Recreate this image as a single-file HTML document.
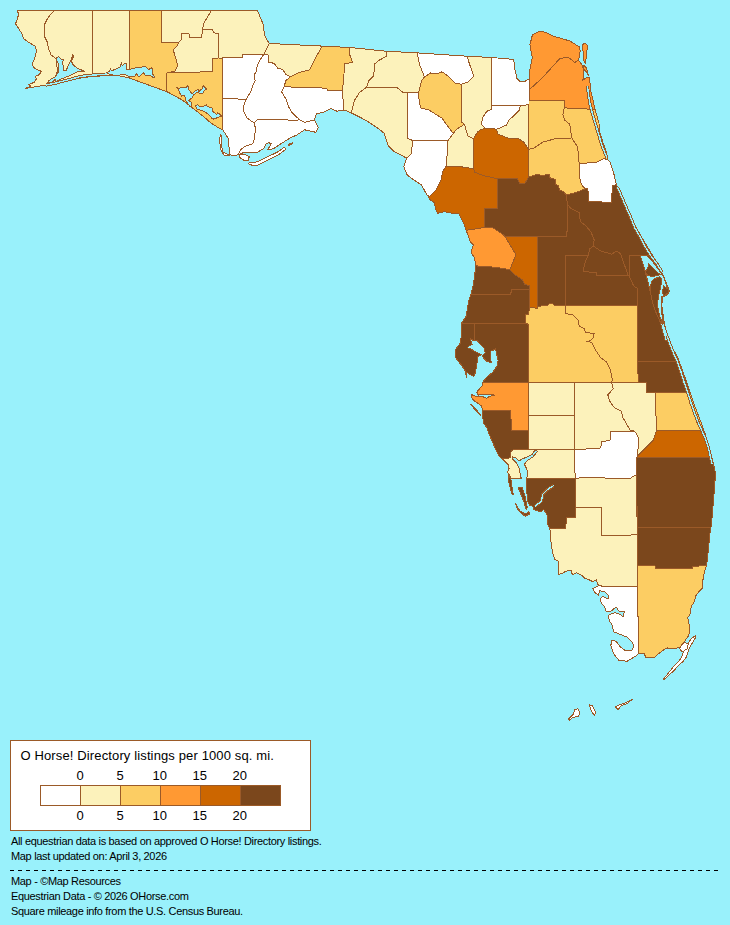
<!DOCTYPE html>
<html><head><meta charset="utf-8">
<style>
html,body{margin:0;padding:0;}
body{width:730px;height:925px;background:#99F1FB;position:relative;overflow:hidden;font-family:"Liberation Sans",sans-serif;color:#000;}
svg.map{position:absolute;left:0;top:0;}
.lg{position:absolute;left:10px;top:740px;width:299px;height:89px;border:1px solid #9B5A28;background:#fff;}
.t{position:absolute;white-space:nowrap;line-height:1;}
.bar{position:absolute;top:785px;height:19px;width:39px;border:1px solid #9B5A28;}
.dash{position:absolute;left:10px;top:870px;width:708px;height:1px;background:repeating-linear-gradient(to right,#000 0 4px,transparent 4px 8px);}
</style></head><body>
<svg class="map" width="730" height="925" viewBox="0 0 730 925">
<g stroke="#9B5A28" stroke-width="1" stroke-linejoin="round" shape-rendering="crispEdges">
<polygon points="54.9,10.5 17.0,10.5 18.7,13.7 17.5,18.7 15.5,23.7 18.7,28.7 22.0,33.7 23.7,38.7 28.7,42.4 35.0,46.1 36.4,50.0 35.9,54.4 34.2,59.9 32.1,64.2 33.7,67.5 37.5,69.7 41.4,71.4 39.2,74.7 35.3,76.3 36.4,79.0 34.2,82.3 28.8,84.5 31.0,86.2 25.5,88.4 39.9,86.0 55.0,83.5 57.4,70.0 56.1,58.6 51.1,54.9 48.6,48.6 47.4,42.4 44.9,37.4 44.9,23.7 47.4,18.7 51.1,13.7 54.9,10.5" fill="#FCF2BB"/>
<polygon points="54.9,10.5 92.5,10.5 92.5,76.6 84.8,77.3 69.8,79.8 55.0,83.5 57.4,70.0 56.1,58.6 51.1,54.9 48.6,48.6 47.4,42.4 44.9,37.4 44.9,23.7 47.4,18.7 51.1,13.7 54.9,10.5" fill="#FCF2BB"/>
<polygon points="92.5,10.5 129.5,10.5 129.5,78.0 117.2,75.3 99.8,76.0 92.5,76.6" fill="#FCF2BB"/>
<polygon points="129.5,10.5 161.8,10.5 161.8,42.3 178.5,42.3 177.4,45.5 173.6,49.4 174.1,53.2 176.8,60.9 177.4,66.4 174.7,71.3 167.0,73.0 166.4,91.4 156.4,87.9 144.3,83.5 129.5,78.0" fill="#FCCD63"/>
<polygon points="161.8,10.5 211.4,10.3 203.7,23.6 202.6,29.1 201.5,37.9 189.5,37.9 188.9,33.5 181.8,33.5 181.8,39.0 178.5,42.3 161.8,42.3" fill="#FCF2BB"/>
<polygon points="178.5,42.3 181.8,39.0 181.8,33.5 188.9,33.5 189.5,37.9 201.5,37.9 202.6,29.1 212.5,29.3 213.6,32.9 218.5,33.3 218.5,58.0 213.0,58.2 212.5,71.8 176.3,72.4 167.0,73.0 174.7,71.3 177.4,66.4 176.8,60.9 174.1,53.2 173.6,49.4 177.4,45.5 178.5,42.3" fill="#FCF2BB"/>
<polygon points="211.4,10.3 257.3,10.3 259.8,16.2 263.5,25.0 264.3,35.0 269.2,43.6 266.0,49.9 263.7,54.5 242.1,54.5 242.1,57.8 222.4,58.0 218.5,58.0 218.5,33.3 213.6,32.9 212.5,29.3 202.6,29.1 203.7,23.6" fill="#FCF2BB"/>
<polygon points="167.0,73.0 176.3,72.4 212.5,71.8 213.0,58.2 218.5,58.0 222.4,58.0 222.4,98.5 222.5,129.5 218.7,127.9 211.0,123.1 203.4,116.4 196.6,111.1 189.9,105.8 182.3,100.1 174.6,95.7 166.4,91.4" fill="#FCCD63"/>
<polygon points="222.4,58.0 242.1,57.8 242.1,54.5 263.7,54.5 260.6,59.0 257.5,64.6 256.3,71.4 254.5,74.5 255.1,80.6 253.2,84.3 250.8,91.7 246.0,99.4 233.9,98.8 222.7,98.3" fill="#FFFFFF"/>
<polygon points="222.7,98.3 233.9,98.8 246.0,99.4 243.8,106.0 243.8,111.4 247.1,118.0 251.5,121.3 254.2,122.9 255.3,127.9 254.7,138.8 252.5,143.8 244.9,146.5 240.5,149.8 238.3,154.7 233.9,155.8 229.5,154.7 229.0,146.5 228.4,138.8 225.2,133.4 222.5,129.5" fill="#FFFFFF"/>
<polygon points="263.7,54.5 266.0,49.9 269.2,43.6 277.9,43.9 295.1,44.9 305.0,45.1 322.1,46.1 315.9,57.4 309.6,69.8 299.7,72.3 290.2,76.9 285.3,73.8 282.8,69.5 277.9,68.3 274.2,63.4 268.6,62.1 268.0,54.5 263.7,54.5" fill="#FCF2BB"/>
<polygon points="263.7,54.5 268.0,54.5 268.6,62.1 274.2,63.4 277.9,68.3 282.8,69.5 285.3,73.8 290.2,76.9 285.9,80.6 284.0,86.8 281.6,91.7 286.5,100.0 288.7,107.1 292.0,112.5 299.6,119.8 292.0,120.8 286.5,119.7 258.0,119.1 254.2,122.9 251.5,121.3 247.1,118.0 243.8,111.4 243.8,106.0 246.0,99.4 250.8,91.7 253.2,84.3 255.1,80.6 254.5,74.5 256.3,71.4 257.5,64.6 260.6,59.0 263.7,54.5" fill="#FFFFFF"/>
<polygon points="322.1,46.1 349.7,47.5 349.4,53.7 352.4,62.4 344.9,63.7 342.5,90.3 327.7,90.3 326.7,88.2 305.0,87.4 284.0,86.8 285.9,80.6 290.2,76.9 299.7,72.3 309.6,69.8 315.9,57.4 322.1,46.1" fill="#FCCD63"/>
<polygon points="284.0,86.8 305.0,87.4 326.7,88.2 327.7,90.3 342.5,90.3 343.7,109.8 343.1,110.4 337.0,111.2 330.8,108.4 324.7,111.8 316.4,113.9 314.4,120.1 309.5,121.1 304.5,122.3 299.6,119.8 292.0,112.5 288.7,107.1 286.5,100.0 281.6,91.7 284.0,86.8" fill="#FFFFFF"/>
<polygon points="254.2,122.9 258.0,119.1 286.5,119.7 292.0,120.8 299.6,119.8 304.5,122.3 309.5,121.1 314.4,120.1 318.3,127.3 315.8,132.3 304.5,129.8 297.1,134.8 292.0,137.2 288.7,138.8 273.4,148.7 267.3,149.8 269.0,147.6 271.2,143.8 269.0,142.7 265.7,144.3 263.5,148.7 258.0,152.0 243.8,152.5 238.3,154.7 240.5,149.8 244.9,146.5 252.5,143.8 254.7,138.8 255.3,127.9 254.2,122.9" fill="#FFFFFF"/>
<polygon points="349.7,47.5 386.1,51.2 386.8,56.2 379.8,59.9 374.8,63.7 373.6,76.1 368.6,81.1 366.8,87.2 359.6,92.3 354.4,100.5 351.4,112.9 343.7,109.8 342.5,90.3 344.9,63.7 352.4,62.4 349.4,53.7 349.7,47.5" fill="#FCF2BB"/>
<polygon points="386.1,51.2 417.2,52.9 419.7,64.9 424.5,77.0 421.4,81.1 419.4,90.3 418.1,92.3 407.9,92.3 402.7,92.3 396.6,87.2 366.8,87.2 368.6,81.1 373.6,76.1 374.8,63.7 379.8,59.9 386.8,56.2 386.1,51.2" fill="#FCF2BB"/>
<polygon points="366.8,87.2 359.6,92.3 354.4,100.5 351.4,112.9 359.6,117.0 368.8,122.1 378.1,128.3 384.2,133.4 388.3,145.7 394.5,151.9 406.8,158.1 411.0,154.0 413.0,140.6 407.9,138.6 407.9,92.3 402.7,92.3 396.6,87.2 366.8,87.2" fill="#FCF2BB"/>
<polygon points="417.2,52.9 467.1,56.2 469.7,64.7 473.8,76.0 467.7,82.1 461.5,84.2 455.3,83.1 448.1,76.0 442.0,71.8 436.8,73.9 430.7,72.9 424.5,77.0 419.7,64.9" fill="#FFFFFF"/>
<polygon points="424.5,77.0 430.7,72.9 436.8,73.9 442.0,71.8 448.1,76.0 455.3,83.1 461.5,84.2 461.5,122.2 464.6,124.2 456.4,129.4 453.3,133.5 449.2,128.3 442.0,118.1 428.6,109.9 420.4,107.8 419.4,101.6 418.1,92.3 419.4,90.3 421.4,81.1 424.5,77.0" fill="#FCCD63"/>
<polygon points="407.9,92.3 418.1,92.3 419.4,101.6 420.4,107.8 428.6,109.9 442.0,118.1 449.2,128.3 453.3,133.5 451.0,136.5 447.9,140.6 413.0,140.6 407.9,138.6" fill="#FFFFFF"/>
<polygon points="413.0,140.6 447.9,140.6 447.4,152.4 446.0,166.1 442.4,172.3 441.1,180.0 436.2,189.7 429.7,196.2 427.3,195.4 424.9,191.3 421.6,184.9 413.0,179.5 406.8,174.5 403.8,166.3 406.8,158.1 411.0,154.0" fill="#FFFFFF"/>
<polygon points="453.3,133.5 456.4,129.4 464.6,124.2 466.0,130.0 468.0,136.2 473.5,138.6 473.5,168.6 459.0,166.5 446.0,166.1 447.4,152.4 447.9,140.6 451.0,136.5" fill="#FCF2BB"/>
<polygon points="467.1,56.2 491.6,57.5 491.6,105.1 491.6,109.2 486.8,111.3 482.7,117.5 481.4,124.3 485.5,128.4 480.0,129.8 477.3,132.4 473.5,138.6 468.0,136.2 466.0,130.0 464.6,124.2 461.5,122.2 461.5,84.2 467.7,82.1 473.8,76.0 469.7,64.7 467.1,56.2" fill="#FCF2BB"/>
<polygon points="491.6,57.5 513.7,59.4 514.9,69.9 517.0,78.4 520.4,81.8 525.2,81.2 529.0,79.0 529.0,90.1 529.0,100.3 529.0,104.5 520.4,105.8 504.7,105.1 497.8,105.8 491.6,105.1" fill="#FFFFFF"/>
<polygon points="491.6,105.1 497.8,105.8 504.7,105.1 520.4,105.8 519.0,110.6 514.2,115.4 508.8,120.2 506.7,125.0 503.3,126.4 500.5,127.7 496.4,129.1 485.5,128.4 481.4,124.3 482.7,117.5 486.8,111.3 491.6,109.2 491.6,105.1" fill="#FFFFFF"/>
<polygon points="529.0,104.5 528.5,149.5 523.8,142.1 518.4,138.7 507.4,138.0 497.8,133.9 496.4,129.1 500.5,127.7 503.3,126.4 506.7,125.0 508.8,120.2 514.2,115.4 519.0,110.6 520.4,105.8" fill="#FCF2BB"/>
<polygon points="529.0,79.0 529.9,69.9 532.4,57.4 529.9,44.9 532.4,35.0 539.8,31.2 546.1,32.5 553.5,36.2 562.3,38.7 570.4,41.2 574.7,44.0 579.1,46.7 580.2,51.0 579.1,57.5 578.5,60.2 574.7,62.4 571.5,59.6 568.2,57.5 566.0,57.4 559.8,58.6 547.3,72.4 540.3,79.8 534.8,84.6 529.0,90.1" fill="#FF9933"/>
<polygon points="529.0,90.1 534.8,84.6 540.3,79.8 547.3,72.4 559.8,58.6 566.0,57.4 568.2,57.5 571.5,59.6 574.7,62.4 578.5,60.2 582.3,65.1 583.9,70.5 582.9,80.2 585.6,78.0 589.4,77.0 591.0,92.1 592.1,96.4 594.8,108.3 595.1,109.5 580.0,108.6 564.2,107.9 564.2,100.3 529.0,100.3" fill="#FF9933"/>
<polygon points="582.9,44.5 585.0,42.9 587.7,45.6 586.6,52.1 585.6,64.0 583.4,59.6 582.9,48.8" fill="#FF9933"/>
<polygon points="583.9,65.6 586.6,68.3 588.3,75.3 586.1,71.5 583.9,69.4" fill="#FF9933"/>
<polygon points="529.0,100.3 564.2,100.3 564.2,107.9 562.9,114.7 564.9,120.2 569.7,124.3 571.8,138.0 555.3,138.7 543.0,142.1 534.0,148.0 528.5,149.5 529.0,104.5" fill="#FCCD63"/>
<polygon points="564.2,107.9 580.0,108.6 595.1,109.5 597.0,116.0 599.0,123.0 599.1,129.9 602.9,142.4 606.6,152.4 607.8,159.8 604.1,158.6 596.6,162.3 579.2,163.6 577.6,147.0 571.8,138.0 569.7,124.3 564.9,120.2 562.9,114.7 564.2,107.9" fill="#FCCD63"/>
<polygon points="528.5,149.5 534.0,148.0 543.0,142.1 555.3,138.7 571.8,138.0 577.6,147.0 579.2,163.6 579.2,171.0 580.3,181.9 582.5,186.3 585.8,188.5 578.1,191.8 572.6,193.4 566.0,195.1 563.8,191.8 559.5,190.1 558.4,185.8 555.6,184.1 555.1,179.2 550.1,178.1 549.6,174.8 546.3,174.2 543.0,175.9 537.5,174.2 534.2,175.3 528.4,177.3 528.5,149.5" fill="#FCCD63"/>
<polygon points="579.2,163.6 596.6,162.3 604.1,158.6 607.8,159.8 610.3,162.3 614.1,174.8 616.5,185.0 615.3,184.8 612.3,186.0 611.6,202.3 588.5,201.6 587.9,188.5 585.8,188.5 582.5,186.3 580.3,181.9 579.2,171.0 579.2,163.6" fill="#FFFFFF"/>
<polygon points="473.5,138.6 477.3,132.4 480.0,129.8 485.5,128.4 496.4,129.1 497.8,133.9 507.4,138.0 518.4,138.7 523.8,142.1 528.5,149.5 528.4,177.3 524.7,183.6 519.7,183.6 517.2,178.6 497.3,178.6 484.8,176.0 474.8,172.3 473.5,168.6" fill="#CC6600"/>
<polygon points="446.0,166.1 459.0,166.5 473.5,168.6 474.8,172.3 484.8,176.0 497.3,178.6 497.3,208.4 484.8,208.4 484.8,227.0 478.3,228.6 466.2,230.2 463.8,223.8 458.9,214.0 452.4,213.2 444.3,211.6 437.8,213.2 435.4,209.2 434.6,202.7 429.7,199.4 428.1,196.2 427.3,195.4 429.7,196.2 436.2,189.7 441.1,180.0 442.4,172.3 446.0,166.1" fill="#CC6600"/>
<polygon points="528.4,177.3 534.2,175.3 537.5,174.2 543.0,175.9 546.3,174.2 549.6,174.8 550.1,178.1 555.1,179.2 555.6,184.1 558.4,185.8 559.5,190.1 563.8,191.8 566.0,195.1 567.1,201.6 567.1,203.5 567.0,236.1 537.4,236.1 504.8,236.1 499.8,232.3 492.3,227.4 484.8,227.0 484.8,208.4 497.3,208.4 497.3,178.6 517.2,178.6 519.7,183.6 524.7,183.6 528.4,177.3" fill="#7B471C"/>
<polygon points="566.0,195.1 572.6,193.4 578.1,191.8 585.8,188.5 587.9,188.5 588.5,201.6 611.6,202.3 612.3,186.0 615.3,184.8 616.5,185.0 617.8,187.3 622.5,199.9 629.0,213.0 634.0,222.9 637.3,229.5 643.8,241.0 653.1,256.2 639.2,255.3 629.9,255.3 629.3,276.2 628.2,275.6 620.5,253.7 616.2,251.0 611.8,254.2 600.8,251.0 593.2,246.0 594.2,240.0 591.2,232.3 585.8,225.8 580.3,221.4 579.2,212.6 570.4,208.2 567.1,203.5 567.1,201.6" fill="#7B471C"/>
<polygon points="466.2,230.2 478.3,228.6 484.8,227.0 492.3,227.4 499.8,232.3 504.8,236.1 516.0,254.8 509.8,269.7 494.8,267.2 475.9,265.9 474.3,257.8 471.0,252.1 473.5,244.8 470.2,241.6" fill="#FF9933"/>
<polygon points="504.8,236.1 537.4,236.1 537.4,308.8 532.9,307.5 529.2,307.9 529.2,289.0 529.2,285.8 524.7,284.1 522.2,279.7 514.7,274.7 509.8,269.7 516.0,254.8" fill="#CC6600"/>
<polygon points="475.9,265.9 494.8,267.2 509.8,269.7 514.7,274.7 522.2,279.7 524.7,284.1 529.2,285.8 529.2,289.0 511.5,289.5 510.7,294.4 471.0,294.4 473.5,283.7" fill="#7B471C"/>
<polygon points="471.0,294.4 510.7,294.4 511.5,289.5 529.2,289.0 529.2,307.9 528.8,314.5 525.1,314.9 525.1,323.2 474.4,323.2 461.3,323.2 462.1,322.6 466.2,316.1 468.6,301.5" fill="#7B471C"/>
<polygon points="461.0,323.2 474.4,323.2 474.4,339.9 473.9,340.7 470.5,339.0 472.2,344.6 470.5,345.1 467.0,347.7 470.5,348.5 473.9,351.1 477.4,352.9 481.3,354.6 480.0,355.4 477.0,357.2 477.8,360.6 476.5,365.0 475.7,371.9 473.9,376.2 469.6,374.5 467.0,371.9 466.6,377.5 466.2,375.3 464.9,370.1 461.4,365.0 458.4,361.5 455.8,358.0 455.3,350.3 457.5,346.8 460.1,343.3 461.4,335.6 461.8,328.6" fill="#7B471C"/>
<polygon points="474.4,323.2 525.1,323.2 528.8,324.4 528.5,382.3 482.6,382.3 486.9,377.1 493.0,371.9 497.3,365.8 498.1,360.6 495.5,348.5 493.0,350.3 490.4,351.1 490.4,357.2 491.2,362.4 486.9,361.5 483.4,358.0 482.6,355.4 485.2,352.9 484.3,348.5 479.1,343.3 477.4,340.7 474.4,339.9" fill="#7B471C"/>
<polygon points="537.4,236.1 567.0,236.1 567.1,203.5 570.4,208.2 579.2,212.6 580.3,221.4 585.8,225.8 591.2,232.3 594.2,240.0 593.2,246.0 589.9,248.8 588.2,255.3 565.7,255.3 565.5,305.2 554.2,305.5 552.6,303.8 549.3,303.4 547.7,305.5 537.8,306.3" fill="#7B471C"/>
<polygon points="593.2,246.0 589.9,248.8 588.2,255.3 584.4,264.1 583.3,271.8 596.4,272.3 596.4,275.6 628.2,275.6 620.5,253.7 616.2,251.0 611.8,254.2 600.8,251.0 593.2,246.0" fill="#7B471C"/>
<polygon points="565.7,255.3 588.2,255.3 584.4,264.1 583.3,271.8 596.4,272.3 596.4,275.6 628.2,275.6 629.3,276.2 633.7,286.0 637.0,288.2 637.8,305.2 600.4,305.2 565.5,305.2" fill="#7B471C"/>
<polygon points="565.5,305.2 565.5,313.6 572.9,314.9 577.9,319.9 579.2,326.1 584.1,328.6 585.4,332.3 594.1,333.6 592.9,338.6 589.1,341.1 586.6,341.1 591.6,342.3 595.4,349.8 600.4,357.3 606.6,362.2 610.3,369.7 612.3,379.7 611.6,382.3 638.3,382.3 637.8,305.2" fill="#FCCD63"/>
<polygon points="529.2,307.9 532.9,307.5 537.4,308.8 537.8,306.3 547.7,305.5 549.3,303.4 552.6,303.8 554.2,305.5 565.5,305.2 565.5,313.6 572.9,314.9 577.9,319.9 579.2,326.1 584.1,328.6 585.4,332.3 594.1,333.6 592.9,338.6 589.1,341.1 586.6,341.1 591.6,342.3 595.4,349.8 600.4,357.3 606.6,362.2 610.3,369.7 612.3,379.7 611.6,382.3 574.6,382.3 528.5,382.3 528.8,324.4 525.1,323.2 525.1,314.9 528.8,314.5" fill="#FCCD63"/>
<polygon points="629.3,276.2 629.9,255.3 639.2,255.3 653.1,256.2 660.7,270.3 663.9,276.8 669.3,290.8 668.2,294.1 662.8,297.3 661.8,304.9 663.9,321.1 668.4,340.0 673.0,349.0 678.3,358.3 679.0,361.0 637.6,361.1 637.8,305.2 637.0,288.2 633.7,286.0" fill="#7B471C"/>
<polygon points="637.6,361.1 679.0,361.0 686.7,382.2 690.0,392.0 655.2,392.0 646.3,392.0 646.3,382.7 638.3,382.3" fill="#7B471C"/>
<polygon points="655.2,392.0 690.0,392.0 693.7,403.2 700.7,421.5 704.0,430.6 656.5,430.6" fill="#FCCD63"/>
<polygon points="637.6,456.0 653.4,440.0 656.5,430.6 704.0,430.6 705.0,432.7 707.6,444.8 710.6,452.4 711.7,457.3 636.8,457.3" fill="#CC6600"/>
<polygon points="636.8,457.3 711.7,457.3 713.2,462.7 715.5,473.3 714.7,485.4 713.2,503.5 711.7,521.7 711.0,527.3 637.1,527.3" fill="#7B471C"/>
<polygon points="637.1,527.3 711.0,527.3 710.2,530.8 708.7,545.9 707.2,561.0 706.4,566.3 692.8,566.3 692.0,568.6 655.0,568.6 655.0,565.6 637.6,565.6" fill="#7B471C"/>
<polygon points="528.5,382.3 574.6,382.3 574.6,415.5 528.3,415.5" fill="#FCF2BB"/>
<polygon points="528.3,415.5 574.6,415.5 574.6,449.3 528.3,449.0" fill="#FCF2BB"/>
<polygon points="574.6,382.3 611.6,382.3 613.3,388.7 607.8,394.9 609.8,401.2 614.1,407.4 621.5,411.1 622.8,417.4 627.8,426.1 630.3,430.3 634.0,431.1 611.0,431.1 610.2,440.1 601.5,441.9 600.7,447.9 594.6,448.8 574.6,449.3" fill="#FCF2BB"/>
<polygon points="611.6,382.3 613.3,388.7 607.8,394.9 609.8,401.2 614.1,407.4 621.5,411.1 622.8,417.4 627.8,426.1 630.3,430.3 634.0,431.1 636.1,433.2 638.7,438.4 637.6,456.0 653.4,440.0 656.5,430.6 655.2,392.0 646.3,392.0 646.3,382.7 638.3,382.3" fill="#FCF2BB"/>
<polygon points="574.6,449.3 594.6,448.8 600.7,447.9 601.5,441.9 610.2,440.1 611.0,431.1 634.0,431.1 636.1,433.2 638.7,438.4 637.6,456.0 636.8,457.3 636.8,475.0 634.6,475.5 629.6,478.7 604.7,478.0 584.8,477.5 575.1,478.4" fill="#FFFFFF"/>
<polygon points="575.1,478.4 584.8,477.5 604.7,478.0 629.6,478.7 634.6,475.5 636.8,475.0 637.1,534.8 601.0,536.0 601.0,507.4 575.1,507.4" fill="#FCF2BB"/>
<polygon points="482.6,382.3 528.5,382.3 528.3,430.4 511.3,430.4 510.8,410.1 482.3,410.1 481.7,406.3 479.0,404.1 473.5,400.3 471.9,398.1 471.3,394.2 473.0,395.3 478.4,397.0 481.7,396.4 486.7,398.1 489.4,396.4 494.9,395.3 491.6,394.2 485.6,394.8 481.2,394.2 478.4,395.3 476.8,392.1 477.9,390.4 480.1,388.2 482.3,386.0" fill="#FF9933"/>
<polygon points="482.3,410.1 510.8,410.1 511.3,430.4 528.3,430.4 528.3,449.0 511.3,450.1 510.2,457.8 502.5,458.9 499.3,456.7 496.0,450.1 492.7,442.5 489.4,434.8 487.2,428.2 483.9,423.8 482.8,418.4" fill="#7B471C"/>
<polygon points="502.5,458.9 510.2,457.8 511.3,450.1 528.3,449.0 574.6,449.3 575.1,478.4 526.8,478.4 527.8,473.2 526.7,468.8 524.5,464.4 526.7,461.1 533.2,456.7 537.6,451.2 534.9,450.1 532.1,454.5 527.8,456.7 522.3,458.9 519.0,461.1 515.7,457.8 512.4,456.7 512.4,458.9 516.8,463.3 519.0,467.7 520.1,473.2 521.2,478.4 511.3,478.4 510.2,476.4 507.5,472.1 509.1,468.8 508.0,464.4" fill="#FCF2BB"/>
<polygon points="526.8,478.4 575.1,478.4 575.1,517.3 566.3,517.3 565.8,528.3 549.9,528.3 547.1,523.9 547.1,515.1 543.8,509.6 540.5,511.8 534.0,509.6 532.9,506.4 529.6,505.3 527.4,500.9 526.8,490.0" fill="#7B471C"/>
<polygon points="470.2,404.1 471.0,404.0 480.6,414.6 480.1,415.4" fill="#FF9933"/>
<polygon points="549.9,528.3 565.8,528.3 566.3,517.3 575.1,517.3 575.1,507.4 601.0,507.4 601.0,536.0 637.1,534.8 637.6,565.6 637.7,586.5 602.5,586.5 597.7,584.5 596.4,579.7 592.9,581.7 588.8,579.7 584.7,578.3 582.0,575.5 576.5,572.8 572.4,574.9 571.0,570.1 565.5,571.4 562.1,573.5 558.7,574.2 558.7,566.0 558.0,561.2 554.6,559.1 553.2,555.0 551.5,547.0 550.4,536.0" fill="#FCF2BB"/>
<polygon points="602.5,586.5 637.7,586.5 638.4,653.5 635.4,656.4 627.2,661.2 619.0,660.5 613.5,653.6 610.8,645.4 612.1,639.9 616.2,641.3 620.3,646.8 625.8,650.9 631.3,650.9 634.0,646.8 632.7,642.7 627.2,637.2 620.3,634.5 613.5,631.7 612.1,624.9 609.4,620.8 608.0,615.3 614.9,612.5 619.0,613.9 623.1,616.6 624.5,611.2 619.0,611.2 616.2,607.1 610.8,611.2 606.0,611.2 604.6,606.4 601.2,603.0 600.5,598.8 602.5,596.1 608.0,598.8 608.7,596.1 605.3,592.0 599.8,590.6 598.4,595.4 594.3,592.0 592.9,588.6 599.8,585.1" fill="#FFFFFF"/>
<polygon points="637.6,565.6 655.0,565.6 655.0,568.6 692.0,568.6 692.8,566.3 706.6,565.6 704.5,571.3 703.1,578.3 702.4,588.1 698.9,591.6 696.1,595.2 694.0,602.2 691.2,606.4 690.5,613.4 687.7,617.7 689.1,624.7 689.6,630.8 688.7,635.5 683.9,642.3 680.1,647.1 677.2,648.0 672.4,649.0 667.6,648.0 664.7,649.0 659.9,652.8 657.1,654.7 654.2,657.6 649.4,657.6 645.5,657.6 644.6,653.8 641.7,653.8 638.4,653.5 637.7,586.5" fill="#FCCD63"/>
<polygon points="695.4,635.6 696.0,637.0 689.5,647.5 688.0,652.0 686.5,657.0 683.0,661.5 678.5,665.5 673.5,671.0 668.0,676.0 664.0,679.6 663.0,679.0 666.5,675.5 670.0,671.0 674.5,665.5 679.0,661.0 681.5,657.5 683.5,652.0 685.5,648.0 688.0,643.0 692.0,638.0" fill="#FFFFFF"/>
<polygon points="684.0,642.5 688.5,643.5 687.0,649.0 682.0,652.0 679.5,648.0" fill="#FFFFFF"/>
<polygon points="615.2,706.8 619.0,704.9 624.8,703.0 632.5,699.1 626.7,703.9 621.0,705.8 618.1,709.7" fill="#FFFFFF"/>
<polygon points="589.3,704.9 592.2,705.8 596.0,712.5 594.1,715.4 591.2,710.6" fill="#FFFFFF"/>
<polygon points="568.2,719.3 573.0,714.5 574.9,709.7 577.8,708.7 579.7,712.5 578.8,716.4 573.0,717.3 569.2,720.2" fill="#FFFFFF"/>
<polygon points="248.2,163.5 253.6,166.0 258.0,165.2 266.8,160.8 277.8,155.3 286.0,149.2 284.3,147.2 277.8,151.9 266.8,157.2 259.1,161.0 253.6,162.6 250.0,162.3" fill="#FFFFFF"/>
<polygon points="238.8,154.7 244.9,154.7 249.3,156.4 248.2,160.8 243.8,160.2 239.9,157.5" fill="#FFFFFF"/>
<polygon points="288.2,144.5 292.5,142.8 293.0,143.6 288.8,145.5" fill="#FFFFFF"/>
<polygon points="220.2,134.5 219.7,141.0 220.8,149.8 224.1,155.3 229.5,155.3 227.3,154.2 222.9,152.0 221.3,144.3 221.9,136.6" fill="#FFFFFF"/>
<polygon points="56.2,57.7 58.9,56.6 61.1,59.3 63.3,59.9 62.7,62.6 63.8,70.8 66.0,70.8 69.3,63.2 71.5,58.8 72.6,54.4 73.7,56.0 71.5,61.0 72.6,64.2 77.0,68.1 84.7,71.4 81.4,71.4 77.0,71.9 68.2,76.3 59.5,79.6 56.2,81.8 55.1,79.6 52.9,81.8 49.6,82.9 47.4,82.9 48.5,80.7 55.1,76.8 58.4,71.9 58.9,66.4 57.8,62.1 56.2,59.3" fill="#99F1FB"/>
<polygon points="106.5,72.5 109.8,71.4 110.3,68.2 111.4,70.9 120.2,67.1 121.3,62.7 122.4,66.0 124.0,63.8 126.8,63.2 126.2,65.4 126.8,69.8 129.2,69.8 133.4,68.2 145.4,66.5 148.7,69.8 151.4,67.6 152.5,69.2 152.0,73.1 154.7,76.9 154.2,78.0 149.8,75.3 145.4,75.3 143.2,72.5 141.0,75.3 138.3,76.9 136.6,73.6 134.5,76.4 130.1,76.9 125.7,74.7 121.3,74.7 118.0,75.8 111.4,74.7 107.6,73.6" fill="#99F1FB"/>
<polygon points="176.5,87.1 178.4,88.1 186.6,87.6 187.5,85.2 188.5,87.1 189.0,90.0 190.9,92.4 191.8,93.8 195.7,90.5 198.1,89.5 199.0,91.4 201.9,89.0 203.4,85.7 204.3,87.1 206.7,89.0 204.3,90.5 203.4,92.9 200.5,93.3 196.6,92.4 193.8,94.8 191.8,98.1 189.9,99.6 189.0,100.5 191.4,102.4 191.8,104.8 190.4,106.8 188.0,103.9 186.1,101.0 185.6,98.6 184.2,95.3 181.8,96.2 180.3,94.3 178.9,90.5" fill="#99F1FB"/>
<polygon points="195.7,105.8 197.6,104.8 199.5,106.8 205.3,105.8 206.2,104.4 207.7,106.8 212.0,107.7 212.9,111.6 216.8,114.4 217.7,112.5 220.6,114.9 222.0,116.4 218.2,117.3 213.9,119.2 212.0,118.3 210.1,115.9 207.2,113.5 203.4,111.1 198.6,109.6 196.6,108.7" fill="#99F1FB"/>
<polygon points="640.1,255.1 647.0,256.0 653.0,262.0 660.0,271.5 663.5,276.5 666.5,285.0 668.3,290.5 667.5,293.5 662.0,296.5 661.0,304.9 662.5,320.0 667.0,333.0 667.5,340.0 665.0,340.0 659.6,320.0 654.2,307.0 650.9,294.1 647.7,281.1 643.9,267.0" fill="#99F1FB"/>
<polygon points="518.1,487.2 521.9,487.2 525.2,496.5 527.4,507.5 526.3,509.6 523.6,500.9" fill="#7B471C"/>
<polygon points="508.2,473.5 511.0,480.1 513.2,494.3 512.1,494.3 509.3,484.4 508.2,479.0" fill="#7B471C"/>
<polygon points="515.3,503.1 517.5,509.6 521.9,514.0 525.2,516.2 529.6,514.0 529.0,511.8 525.2,514.0 519.7,510.7 517.0,506.4" fill="#7B471C"/>
<polygon points="648.8,263.8 657.4,272.4 660.7,274.6 652.0,276.8 646.6,274.6 645.5,271.4 648.2,267.0" fill="#7B471C"/>
<polygon points="654.2,278.9 659.6,276.8 661.8,278.9 660.7,287.6 658.5,296.2 657.4,304.9 659.6,315.7 662.8,324.3 660.7,322.2 656.4,313.5 653.1,304.9 650.9,294.1 650.4,285.4 652.0,281.1" fill="#7B471C"/>
<polygon points="663.5,286.0 668.0,289.0 668.5,292.5 663.5,296.0 662.5,292.0" fill="#7B471C"/>
</g>
<polyline points="46.0,85.0 56.0,83.0 69.0,79.6 81.0,76.4 91.0,75.2 100.0,74.7 107.0,74.0" fill="none" stroke="#9B5A28" stroke-width="3.2" stroke-linejoin="round" shape-rendering="crispEdges"/>
<polyline points="46.0,85.0 56.0,83.0 69.0,79.6 81.0,76.4 91.0,75.2 100.0,74.7 107.0,74.0" fill="none" stroke="#99F1FB" stroke-width="1.3" stroke-linejoin="round" shape-rendering="crispEdges"/>
<polyline points="617.5,187.0 625.8,206.4 632.3,221.2 634.8,227.8 640.6,237.7 646.0,248.0 651.0,256.0 657.0,264.0 662.0,272.0" fill="none" stroke="#9B5A28" stroke-width="3.2" stroke-linejoin="round" shape-rendering="crispEdges"/>
<polyline points="617.5,187.0 625.8,206.4 632.3,221.2 634.8,227.8 640.6,237.7 646.0,248.0 651.0,256.0 657.0,264.0 662.0,272.0" fill="none" stroke="#99F1FB" stroke-width="1.3" stroke-linejoin="round" shape-rendering="crispEdges"/>
<polyline points="667.2,336.0 669.5,343.0 673.5,353.0 677.5,362.0 681.0,372.0 684.0,382.0 687.5,392.0 691.0,403.0 694.5,413.0 698.0,422.0 702.0,431.0 705.5,439.0 708.2,447.0 710.0,455.0 712.0,464.0" fill="none" stroke="#9B5A28" stroke-width="3.2" stroke-linejoin="round" shape-rendering="crispEdges"/>
<polyline points="667.2,336.0 669.5,343.0 673.5,353.0 677.5,362.0 681.0,372.0 684.0,382.0 687.5,392.0 691.0,403.0 694.5,413.0 698.0,422.0 702.0,431.0 705.5,439.0 708.2,447.0 710.0,455.0 712.0,464.0" fill="none" stroke="#99F1FB" stroke-width="1.3" stroke-linejoin="round" shape-rendering="crispEdges"/>
<polyline points="535.1,506.4 541.6,500.9 542.7,494.3 547.1,489.9 553.7,485.5" fill="none" stroke="#9B5A28" stroke-width="3.2" stroke-linejoin="round" shape-rendering="crispEdges"/>
<polyline points="535.1,506.4 541.6,500.9 542.7,494.3 547.1,489.9 553.7,485.5" fill="none" stroke="#99F1FB" stroke-width="1.3" stroke-linejoin="round" shape-rendering="crispEdges"/>
<polyline points="587.5,86.0 588.5,95.0 590.0,104.0 592.5,114.0 595.5,124.0 598.5,134.0 601.5,144.0 604.5,152.0 607.0,158.0" fill="none" stroke="#9B5A28" stroke-width="3.2" stroke-linejoin="round" shape-rendering="crispEdges"/>
<polyline points="587.5,86.0 588.5,95.0 590.0,104.0 592.5,114.0 595.5,124.0 598.5,134.0 601.5,144.0 604.5,152.0 607.0,158.0" fill="none" stroke="#99F1FB" stroke-width="1.3" stroke-linejoin="round" shape-rendering="crispEdges"/>
</svg><div class="lg"></div>
<div class="t" style="left:20.5px;top:749px;font-size:13px;letter-spacing:0.13px;">O Horse! Directory listings per 1000 sq. mi.</div>
<div class="t" style="left:76.5px;top:769px;font-size:13px;">0</div>
<div class="t" style="left:116.5px;top:769px;font-size:13px;">5</div>
<div class="t" style="left:152.5px;top:769px;font-size:13px;">10</div>
<div class="t" style="left:192.5px;top:769px;font-size:13px;">15</div>
<div class="t" style="left:232.5px;top:769px;font-size:13px;">20</div>
<div class="bar" style="left:40px;background:#FFFFFF"></div>
<div class="bar" style="left:80px;background:#FCF2BB"></div>
<div class="bar" style="left:120px;background:#FCCD63"></div>
<div class="bar" style="left:160px;background:#FF9933"></div>
<div class="bar" style="left:200px;background:#CC6600"></div>
<div class="bar" style="left:240px;background:#7B471C"></div>
<div class="t" style="left:76.5px;top:809px;font-size:13px;">0</div>
<div class="t" style="left:116.5px;top:809px;font-size:13px;">5</div>
<div class="t" style="left:152.5px;top:809px;font-size:13px;">10</div>
<div class="t" style="left:192.5px;top:809px;font-size:13px;">15</div>
<div class="t" style="left:232.5px;top:809px;font-size:13px;">20</div>
<div class="t" style="left:11px;top:836px;font-size:11px;letter-spacing:-0.33px;">All equestrian data is based on approved O Horse! Directory listings.</div>
<div class="t" style="left:11px;top:851px;font-size:11px;letter-spacing:-0.33px;">Map last updated on: April 3, 2026</div>
<div class="dash"></div>
<div class="t" style="left:11px;top:876px;font-size:11px;letter-spacing:-0.33px;">Map - &copy;Map Resources</div>
<div class="t" style="left:11px;top:891px;font-size:11px;letter-spacing:-0.33px;">Equestrian Data - &copy; 2026 OHorse.com</div>
<div class="t" style="left:11px;top:906px;font-size:11px;letter-spacing:-0.33px;">Square mileage info from the U.S. Census Bureau.</div>
</body></html>
